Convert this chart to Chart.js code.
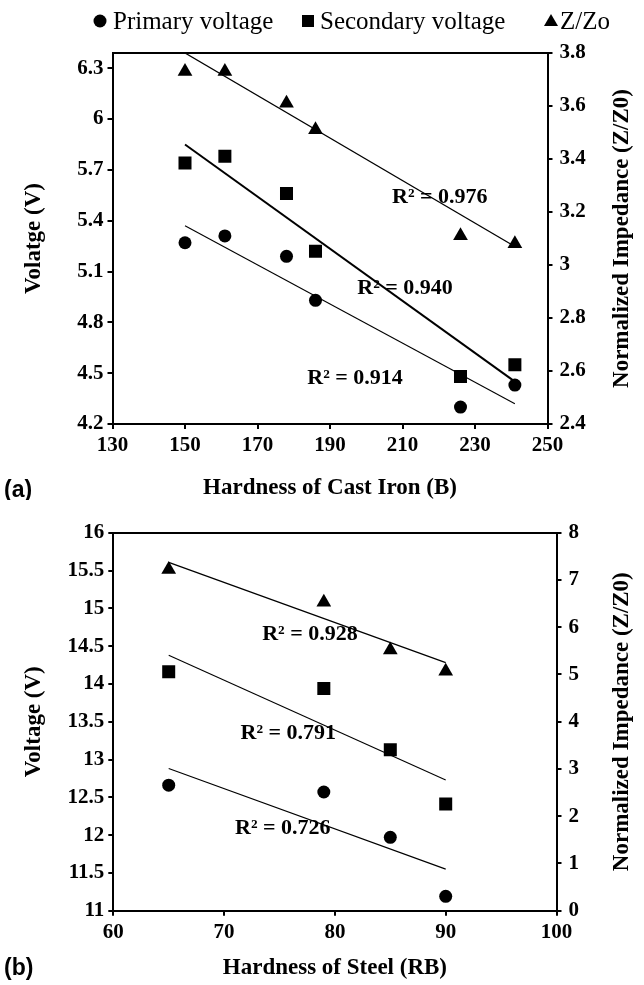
<!DOCTYPE html>
<html>
<head>
<meta charset="utf-8">
<title>Hardness vs voltage and impedance</title>
<script src="https://cdn.jsdelivr.net/npm/chart.js@4.4.1/dist/chart.umd.min.js"></script>
<style>
  html, body { margin: 0; padding: 0; background: #fff; }
  body { width: 644px; height: 985px; position: relative; overflow: hidden; }
  canvas { position: absolute; left: 0; }
  #chart-iron { top: 0; }
  #chart-steel { top: 500px; }
</style>
</head>
<body>
<canvas id="chart-iron" width="644" height="500"></canvas>
<canvas id="chart-steel" width="644" height="485"></canvas>
<script>
// --- (a) cast iron ---
var ironHardness = [150, 161, 178, 186, 226, 241];
var ironPrimary = [5.27, 5.31, 5.19, 4.93, 4.30, 4.43];
var ironSecondary = [5.74, 5.78, 5.56, 5.22, 4.48, 4.55];
var ironImpedance = [3.73, 3.73, 3.61, 3.51, 3.11, 3.08];
// trendlines, value at first and last hardness
var ironTrendX = [150, 241];
var ironPrimaryTrend = [5.37, 4.32];
var ironSecondaryTrend = [5.85, 4.45];
var ironImpedanceTrend = [3.80, 3.07];
var ironR2 = ['R\u00B2 = 0.976', 'R\u00B2 = 0.940', 'R\u00B2 = 0.914'];
var ironXTicks = [130, 150, 170, 190, 210, 230, 250];
var ironVoltTicks = [4.2, 4.5, 4.8, 5.1, 5.4, 5.7, 6.0, 6.3];
var ironZTicks = [2.4, 2.6, 2.8, 3.0, 3.2, 3.4, 3.6, 3.8];

// --- (b) steel ---
var steelHardness = [65, 79, 85, 90];
var steelPrimary = [12.66, 12.57, 11.97, 11.19];
var steelSecondary = [14.16, 13.94, 13.13, 12.41];
var steelImpedance = [7.22, 6.53, 5.52, 5.07];
var steelTrendX = [65, 90];
var steelPrimaryTrend = [12.88, 11.55];
var steelSecondaryTrend = [14.38, 12.73];
var steelImpedanceTrend = [7.37, 5.25];
var steelR2 = ['R\u00B2 = 0.928', 'R\u00B2 = 0.791', 'R\u00B2 = 0.726'];
var steelXTicks = [60, 70, 80, 90, 100];
var steelVoltTicks = [11, 11.5, 12, 12.5, 13, 13.5, 14, 14.5, 15, 15.5, 16];
var steelZTicks = [0, 1, 2, 3, 4, 5, 6, 7, 8];

var seriesNames = ['Primary voltage', 'Secondary voltage', 'Z/Zo'];

var SERIF = '"Liberation Serif", "Times New Roman", serif';
var SANS = '"Liberation Sans", Arial, sans-serif';
var TITLE_SIZE = 23;

function pts(xs, ys) {
  return xs.map(function (x, i) { return { x: x, y: ys[i] }; });
}

function fmt(v) { return String(+v.toFixed(2)); }

function axis(position, min, max, tickList, extra) {
  var a = {
    type: 'linear',
    position: position,
    min: min,
    max: max,
    afterBuildTicks: function (s) { s.ticks = tickList.map(function (v) { return { value: v }; }); },
    ticks: { color: '#000', padding: 4, font: { family: SERIF, size: 21, weight: 'bold' }, callback: fmt, maxRotation: 0, autoSkip: false },
    grid: { drawOnChartArea: false, drawTicks: true, tickLength: 5, color: '#000', lineWidth: 2 },
    border: { display: true, color: '#000', width: 2 }
  };
  return Object.assign(a, extra || {});
}

// black markers + thin black trendlines
function datasets(xs, prim, sec, imp, tx, pTr, sTr, zTr, secTrendWidth) {
  var line = function (ys, axisId, w) {
    return { data: pts(tx, ys), yAxisID: axisId, showLine: true, borderColor: '#000', borderWidth: w, pointRadius: 0 };
  };
  var marks = function (ys, style, r, axisId) {
    return { data: pts(xs, ys), yAxisID: axisId, pointStyle: style, pointRadius: r, backgroundColor: '#000', borderColor: '#000', borderWidth: 0 };
  };
  return [
    line(zTr, 'y2', 1.3),
    line(sTr, 'y', secTrendWidth),
    line(pTr, 'y', 1.1),
    marks(prim, 'circle', 6.5, 'y'),
    marks(sec, 'rect', 9.2, 'y'),
    marks(imp, 'triangle', 8.5, 'y2')
  ];
}

// right-axis title (reads upward), R² notes, panel letter, optional legend row
var figureText = {
  id: 'figureText',
  afterDraw: function (chart, args, o) {
    var ctx = chart.ctx;
    var area = chart.chartArea;
    ctx.save();
    ctx.fillStyle = '#000';
    ctx.textBaseline = 'middle';

    ctx.save();
    ctx.font = 'bold ' + TITLE_SIZE + 'px ' + SERIF;
    ctx.textAlign = 'center';
    ctx.translate(o.rightTitleX, (area.top + area.bottom) / 2);
    ctx.rotate(-Math.PI / 2);
    ctx.fillText(o.rightTitle, 0, 0);
    ctx.restore();

    ctx.font = 'bold 22px ' + SERIF;
    ctx.textAlign = 'center';
    o.notes.forEach(function (n) {
      ctx.fillText(n.text, chart.scales.x.getPixelForValue(n.x), chart.scales.y.getPixelForValue(n.y));
    });

    ctx.font = 'bold 23px ' + SANS;
    ctx.textAlign = 'left';
    ctx.fillText(o.panel, 4, o.panelY);

    if (o.legend) {
      var L = o.legend;
      ctx.font = '25px ' + SERIF;
      L.items.forEach(function (it) {
        var cx = it.markerX, cy = L.y;
        ctx.beginPath();
        if (it.style === 'circle') {
          ctx.arc(cx, cy, 6.5, 0, Math.PI * 2);
        } else if (it.style === 'rect') {
          ctx.rect(cx - 6, cy - 6, 12, 12);
        } else {
          ctx.moveTo(cx, cy - 7);
          ctx.lineTo(cx + 7, cy + 5);
          ctx.lineTo(cx - 7, cy + 5);
          ctx.closePath();
        }
        ctx.fill();
        ctx.fillText(it.text, it.textX, cy + 1);
      });
    }
    ctx.restore();
  }
};

function makeChart(el, cfg) {
  return new Chart(document.getElementById(el), {
    type: 'scatter',
    data: { datasets: cfg.datasets },
    options: {
      responsive: false,
      animation: false,
      events: [],
      layout: { padding: { top: cfg.top, left: 0, right: 0, bottom: 0 } },
      plugins: {
        legend: { display: false },
        tooltip: { enabled: false },
        figureText: cfg.text
      },
      scales: {
        x: axis('bottom', cfg.xMin, cfg.xMax, cfg.xTicks, {
          afterFit: function (s) { s.height = cfg.bottomH; },
          title: { display: true, text: cfg.xTitle, color: '#000', padding: { top: 0, bottom: cfg.xTitlePad }, font: { family: SERIF, size: TITLE_SIZE, weight: 'bold', lineHeight: 1 } }
        }),
        xTop: {
          type: 'linear', position: 'top', min: cfg.xMin, max: cfg.xMax,
          ticks: { display: false }, grid: { display: false },
          border: { display: true, color: '#000', width: 2 },
          afterFit: function (s) { s.height = 0; }
        },
        y: axis('left', cfg.yMin, cfg.yMax, cfg.yTicks, {
          afterFit: function (s) { s.width = cfg.leftW; },
          title: { display: true, text: cfg.yTitle, color: '#000', padding: { top: 23, bottom: 0 }, font: { family: SERIF, size: TITLE_SIZE, weight: 'bold', lineHeight: 1 } }
        }),
        y2: axis('right', cfg.zMin, cfg.zMax, cfg.zTicks, {
          afterFit: function (s) { s.width = cfg.rightW; },
          ticks: { color: '#000', padding: 7, font: { family: SERIF, size: 21, weight: 'bold' }, callback: fmt }
        })
      }
    },
    plugins: [figureText]
  });
}

makeChart('chart-iron', {
  datasets: datasets(ironHardness, ironPrimary, ironSecondary, ironImpedance, ironTrendX, ironPrimaryTrend, ironSecondaryTrend, ironImpedanceTrend, 2),
  top: 53, leftW: 112.5, rightW: 96.5, bottomH: 76, xTitlePad: 0,
  xMin: 130, xMax: 250, xTicks: ironXTicks, xTitle: 'Hardness of Cast Iron (B)',
  yMin: 4.2, yMax: 6.39, yTicks: ironVoltTicks, yTitle: 'Volatge (V)',
  zMin: 2.4, zMax: 3.8, zTicks: ironZTicks,
  text: {
    rightTitle: 'Normalized Impedance (Z/Z0)', rightTitleX: 622,
    panel: '(a)', panelY: 491,
    notes: [
      { text: ironR2[0], x: 220.3, y: 5.54 },
      { text: ironR2[1], x: 210.7, y: 5.00 },
      { text: ironR2[2], x: 196.9, y: 4.47 }
    ],
    legend: {
      y: 21,
      items: [
        { style: 'circle', markerX: 100, textX: 113, text: seriesNames[0] },
        { style: 'rect', markerX: 308, textX: 320, text: seriesNames[1] },
        { style: 'triangle', markerX: 551, textX: 560, text: seriesNames[2] }
      ]
    }
  }
});

makeChart('chart-steel', {
  datasets: datasets(steelHardness, steelPrimary, steelSecondary, steelImpedance, steelTrendX, steelPrimaryTrend, steelSecondaryTrend, steelImpedanceTrend, 1.1),
  top: 32.7, leftW: 113.3, rightW: 87.5, bottomH: 74.3, xTitlePad: 5,
  xMin: 60, xMax: 100, xTicks: steelXTicks, xTitle: 'Hardness of Steel (RB)',
  yMin: 11, yMax: 16, yTicks: steelVoltTicks, yTitle: 'Voltage (V)',
  zMin: 0, zMax: 8, zTicks: steelZTicks,
  text: {
    rightTitle: 'Normalized Impedance (Z/Z0)', rightTitleX: 622,
    panel: '(b)', panelY: 469,
    notes: [
      { text: steelR2[0], x: 77.75, y: 14.65 },
      { text: steelR2[1], x: 75.8, y: 13.35 },
      { text: steelR2[2], x: 75.3, y: 12.09 }
    ]
  }
});
</script>
</body>
</html>
